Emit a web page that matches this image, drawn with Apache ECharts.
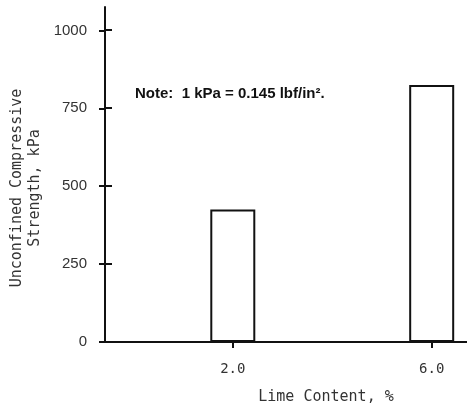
<!DOCTYPE html>
<html>
<head>
<meta charset="utf-8">
<script src="https://cdn.jsdelivr.net/npm/echarts@6/dist/echarts.min.js"></script>
<style>
  html, body { margin: 0; padding: 0; background: #fff; }
  #main { width: 467px; height: 407px; }
</style>
</head>
<body>
<div id="main"></div>
<script>
// lime content (%) and strength (kPa)
var limeContent = [2.0, 6.0];
var strength = [425, 825];
var yTicks = [0, 250, 500, 750, 1000];
var xTicks = [2.0, 6.0];

var chartDom = document.getElementById('main');
var myChart = echarts.init(chartDom);

var barData = limeContent.map(function (x, i) { return [x, strength[i]]; });

var tickStyle = { color: '#111', width: 2 };
var lineStyle = { color: '#111', width: 2 };

var option = {
  animation: false,
  grid: [
    { left: 105, right: 0, top: 7, bottom: 65, outerBoundsMode: 'none' },
    // overlay grids, only for the inner half of the crossing ticks
    { left: 105, right: 0, top: 30, bottom: 65, outerBoundsMode: 'none' },
    { left: 233, right: 35, top: 7, bottom: 65, outerBoundsMode: 'none' }
  ],
  xAxis: [
    {
      type: 'value',
      gridIndex: 0,
      min: -0.57,
      max: 6.71,
      splitLine: { show: false },
      axisLine: { onZero: false, lineStyle: lineStyle },
      axisTick: { customValues: xTicks, length: 6, lineStyle: tickStyle },
      axisLabel: {
        customValues: xTicks,
        margin: 20,
        color: '#333',
        fontFamily: 'DejaVu Sans Mono',
        fontSize: 14,
        formatter: function (v) { return v.toFixed(1); }
      }
    },
    { type: 'value', gridIndex: 1, show: false, min: 0, max: 1 },
    {
      type: 'value',
      gridIndex: 2,
      min: xTicks[0],
      max: xTicks[1],
      interval: 4,
      splitLine: { show: false },
      axisLine: { show: false, onZero: false },
      axisTick: { show: true, inside: true, length: 7, lineStyle: tickStyle },
      axisLabel: { show: false }
    }
  ],
  yAxis: [
    {
      type: 'value',
      gridIndex: 0,
      min: 0,
      max: 1075,
      splitLine: { show: false },
      axisLine: { onZero: false, lineStyle: lineStyle },
      axisTick: { customValues: yTicks, length: 6, lineStyle: tickStyle },
      axisLabel: {
        customValues: yTicks,
        margin: 18,
        color: '#333',
        fontFamily: 'Liberation Sans',
        fontSize: 15,
        formatter: function (v) { return String(v); }
      }
    },
    {
      type: 'value',
      gridIndex: 1,
      min: 0,
      max: 1000,
      interval: 250,
      splitLine: { show: false },
      axisLine: { show: false, onZero: false },
      axisTick: { show: true, inside: true, length: 7, lineStyle: tickStyle },
      axisLabel: { show: false }
    },
    { type: 'value', gridIndex: 2, show: false, min: 0, max: 1 }
  ],
  series: [
    {
      type: 'bar',
      xAxisIndex: 0,
      yAxisIndex: 0,
      barWidth: 45,
      data: barData,
      itemStyle: { color: '#fff', borderColor: '#111', borderWidth: 2 }
    },
    { type: 'scatter', xAxisIndex: 1, yAxisIndex: 1, silent: true, data: [] },
    { type: 'scatter', xAxisIndex: 2, yAxisIndex: 2, silent: true, data: [] }
  ],
  graphic: [
    {
      type: 'text',
      left: 135,
      top: 86,
      style: {
        text: 'Note:  1 kPa = 0.145 lbf/in².',
        font: 'bold 15px "Liberation Sans", Arial, sans-serif',
        fill: '#111'
      }
    },
    {
      type: 'text',
      x: 26,
      y: 188,
      rotation: Math.PI / 2,
      style: {
        text: 'Unconfined Compressive\nStrength, kPa',
        font: '15px "DejaVu Sans Mono", monospace',
        lineHeight: 18,
        fill: '#333',
        align: 'center',
        verticalAlign: 'middle'
      }
    },
    {
      type: 'text',
      x: 326,
      y: 397,
      style: {
        text: 'Lime Content, %',
        font: '15px "DejaVu Sans Mono", monospace',
        fill: '#333',
        align: 'center',
        verticalAlign: 'middle'
      }
    }
  ]
};

myChart.setOption(option);
window.onresize = function () {
  myChart.resize();
};
</script>
</body>
</html>
